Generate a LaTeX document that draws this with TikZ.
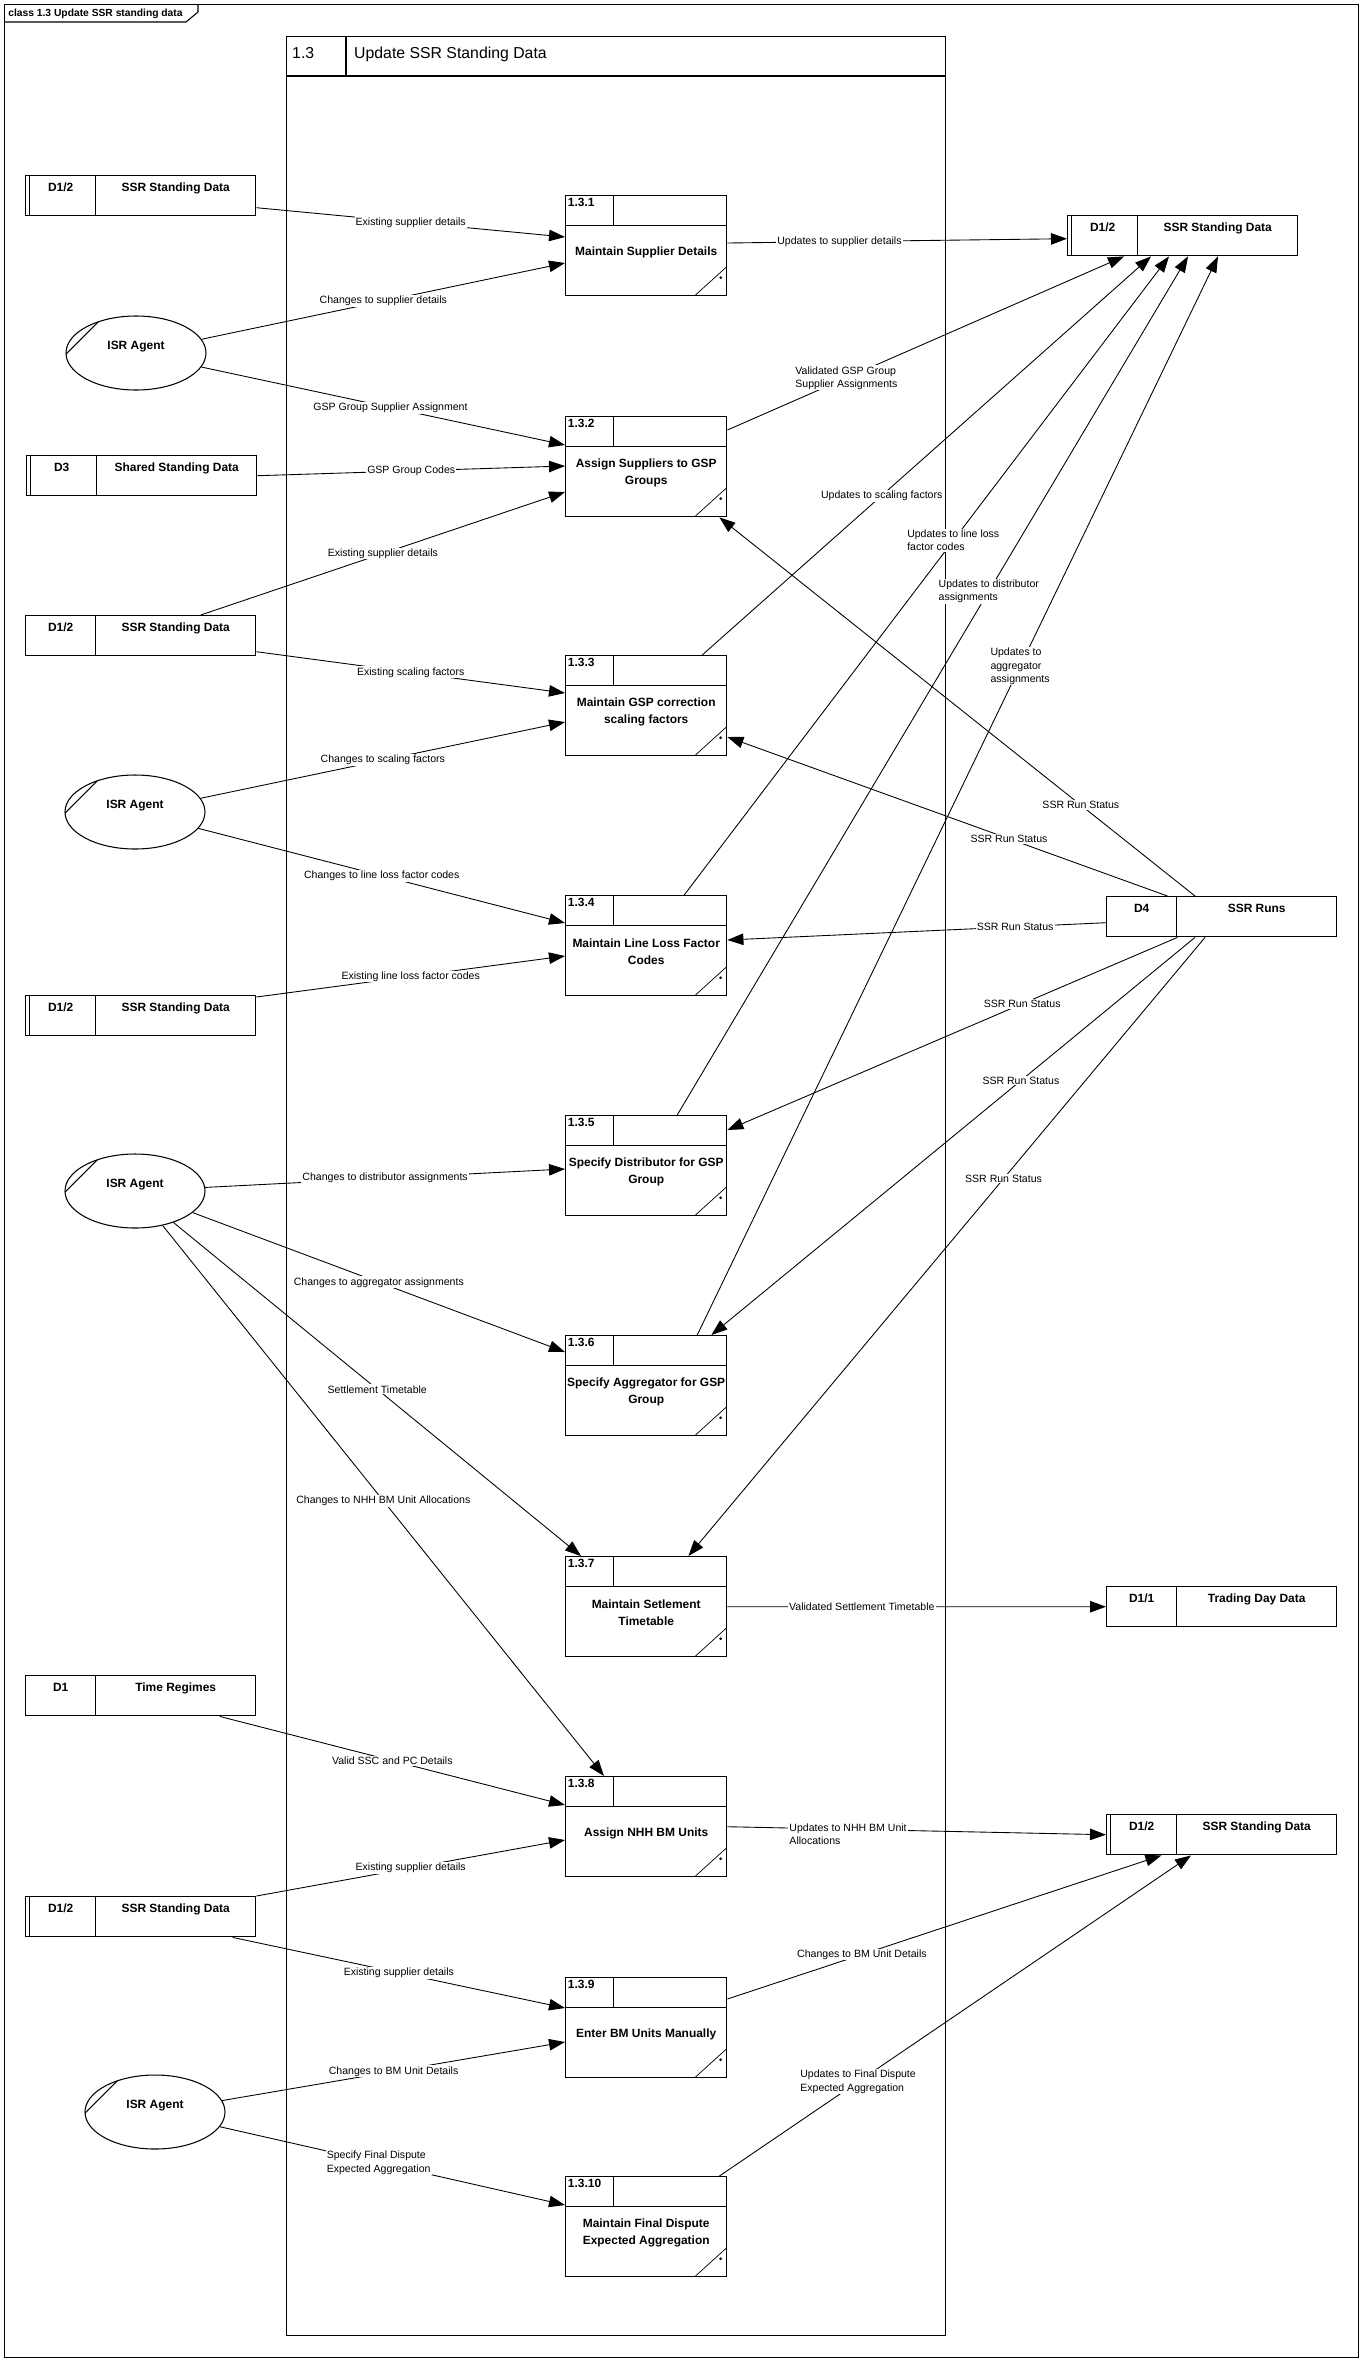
\documentclass[tikz,border=0pt]{standalone}
\usepackage{fontspec}
\setmainfont{Liberation Sans}
\usetikzlibrary{arrows.meta,positioning,calc,shapes.geometric}
\tikzset{
  lbl/.style  ={fill=white, inner sep=0.6pt, align=left, font=\fontsize{6}{7.5}\selectfont},
  arr/.style  ={-{Triangle[length=3.2mm, width=2.3mm]}, line width=0.5pt},
  ttl/.style  ={align=center, inner sep=0pt, font=\fontsize{6.8}{9.6}\selectfont\bfseries},
  pid/.style  ={anchor=north west, inner sep=1.5pt, font=\fontsize{6.8}{8}\selectfont\bfseries},
  proc/.style ={draw, line width=0.8pt, anchor=north west, minimum width=32.2mm, minimum height=20mm, inner sep=0pt,
    path picture={
      \draw[line width=0.8pt] ([yshift=-6mm]path picture bounding box.north west) -- ([yshift=-6mm]path picture bounding box.north east);
      \draw[line width=0.8pt] ([xshift=9.6mm]path picture bounding box.north west) -- ([xshift=9.6mm, yshift=-6mm]path picture bounding box.north west);
      \draw[line width=0.4pt] ([yshift=5.8mm]path picture bounding box.south east) -- ([xshift=-6.4mm]path picture bounding box.south east);
      \fill ([xshift=-1.2mm, yshift=3.6mm]path picture bounding box.south east) circle (0.3mm);
    }},
  cell/.style ={draw, line width=0.8pt, minimum height=8mm, inner sep=0pt, text height=1.6mm, text depth=3.1mm,
    font=\fontsize{6.8}{8}\selectfont\bfseries},
  sid/.style  ={cell, minimum width=14mm, anchor=north west},
  snm/.style  ={cell, minimum width=32mm},
  dbl/.style  ={path picture={
      \draw[line width=0.8pt] ([xshift=0.8mm]path picture bounding box.north west) -- ([xshift=0.8mm]path picture bounding box.south west);
    }},
  agent/.style={draw, ellipse, line width=0.6pt, minimum width=28mm, minimum height=14.8mm, inner sep=0pt,
    text height=1.6mm, text depth=3.1mm, font=\fontsize{6.8}{8}\selectfont\bfseries,
    path picture={
      \draw[line width=0.6pt] ([xshift=-16mm, yshift=-2.2mm]path picture bounding box.center) -- ([xshift=-5mm, yshift=8.8mm]path picture bounding box.center);
    }},
}
\begin{document}
\begin{tikzpicture}[x=0.2mm, y=-0.2mm]
  \useasboundingbox (0,0) rectangle (1361,2361);

  % diagram frame and its tab
  \node[draw, line width=0.6pt, anchor=north west, minimum width=270.8mm, minimum height=470.6mm, inner sep=0pt] (frame) at (4,4) {};
  \draw[line width=0.6pt] ($(frame.north west)+(0,18)$) -- ++(182,0) -- ++(12,-10) -- ++(0,-8);
  \node[anchor=west, inner sep=0pt, font=\fontsize{5.85}{7}\selectfont\bfseries] (tab) at ($(frame.north west)+(4,9.5)$) {class 1.3 Update SSR standing data};

  % parent process 1.3
  \node[draw, line width=0.8pt, anchor=north west, minimum width=131.8mm, minimum height=459.8mm, inner sep=0pt] (p13) at (286,36) {};
  \draw[line width=0.8pt] ($(p13.north west)+(0,40)$) -- ($(p13.north east)+(0,40)$);
  \draw[line width=0.8pt] ($(p13.north west)+(60,0)$) -- ++(0,40);
  \node[anchor=north west, font=\fontsize{9}{10}\selectfont] (p13id) at ($(p13.north west)+(0,5)$) {1.3};
  \node[anchor=north west, font=\fontsize{9}{10}\selectfont] (p13nm) at ($(p13.north west)+(62,5)$) {Update SSR Standing Data};

  % data stores, left
  \node[sid, dbl] (s1a) at (25,175) {D1/2};
  \node[snm, right=-0.8pt of s1a] (s1b) {SSR Standing Data};
  \node[sid, dbl] (s3a) at (26,455) {D3};
  \node[snm, right=-0.8pt of s3a] (s3b) {Shared Standing Data};
  \node[sid] (s4a) at (25,615) {D1/2};
  \node[snm, right=-0.8pt of s4a] (s4b) {SSR Standing Data};
  \node[sid, dbl] (s5a) at (25,995) {D1/2};
  \node[snm, right=-0.8pt of s5a] (s5b) {SSR Standing Data};
  \node[sid] (d1a) at (25,1675) {D1};
  \node[snm, right=-0.8pt of d1a] (d1b) {Time Regimes};
  \node[sid, dbl] (s6a) at (25,1896) {D1/2};
  \node[snm, right=-0.8pt of s6a] (s6b) {SSR Standing Data};

  % data stores, right
  \node[sid, dbl] (rs1a) at (1067,215) {D1/2};
  \node[snm, right=-0.8pt of rs1a] (rs1b) {SSR Standing Data};
  \node[sid] (d4a) at (1106,896) {D4};
  \node[snm, right=-0.8pt of d4a] (d4b) {SSR Runs};
  \node[sid] (d11a) at (1106,1586) {D1/1};
  \node[snm, right=-0.8pt of d11a] (d11b) {Trading Day Data};
  \node[sid, dbl] (rs4a) at (1106,1814) {D1/2};
  \node[snm, right=-0.8pt of rs4a] (rs4b) {SSR Standing Data};

  % external entities
  \node[agent] (e1) at (136,353)  {ISR Agent};
  \node[agent] (e2) at (135,812)  {ISR Agent};
  \node[agent] (e3) at (135,1191) {ISR Agent};
  \node[agent] (e4) at (155,2112) {ISR Agent};

  % sub-processes
  \node[proc] (p131) at (565,195) {};
  \node[pid] (p131n) at (p131.north west) {1.3.1};
  \node[ttl] (p131t) at ($(p131.north)+(0,57)$) {Maintain Supplier Details};
  \node[proc] (p132) at (565,416) {};
  \node[pid] (p132n) at (p132.north west) {1.3.2};
  \node[ttl] (p132t) at ($(p132.north)+(0,57)$) {Assign Suppliers to GSP\\Groups};
  \node[proc] (p133) at (565,655) {};
  \node[pid] (p133n) at (p133.north west) {1.3.3};
  \node[ttl] (p133t) at ($(p133.north)+(0,57)$) {Maintain GSP correction\\scaling factors};
  \node[proc] (p134) at (565,895) {};
  \node[pid] (p134n) at (p134.north west) {1.3.4};
  \node[ttl] (p134t) at ($(p134.north)+(0,57)$) {Maintain Line Loss Factor\\Codes};
  \node[proc] (p135) at (565,1115) {};
  \node[pid] (p135n) at (p135.north west) {1.3.5};
  \node[ttl] (p135t) at ($(p135.north)+(0,57)$) {Specify Distributor for GSP\\Group};
  \node[proc] (p136) at (565,1335) {};
  \node[pid] (p136n) at (p136.north west) {1.3.6};
  \node[ttl] (p136t) at ($(p136.north)+(0,57)$) {Specify Aggregator for GSP\\Group};
  \node[proc] (p137) at (565,1556) {};
  \node[pid] (p137n) at (p137.north west) {1.3.7};
  \node[ttl] (p137t) at ($(p137.north)+(0,57)$) {Maintain Setlement\\Timetable};
  \node[proc] (p138) at (565,1776) {};
  \node[pid] (p138n) at (p138.north west) {1.3.8};
  \node[ttl] (p138t) at ($(p138.north)+(0,57)$) {Assign NHH BM Units};
  \node[proc] (p139) at (565,1977) {};
  \node[pid] (p139n) at (p139.north west) {1.3.9};
  \node[ttl] (p139t) at ($(p139.north)+(0,57)$) {Enter BM Units Manually};
  \node[proc] (p1310) at (565,2176) {};
  \node[pid] (p1310n) at (p1310.north west) {1.3.10};
  \node[ttl] (p1310t) at ($(p1310.north)+(0,57)$) {Maintain Final Dispute\\Expected Aggregation};

  % flows in from the left
  \draw[arr] ($(s1b.east)+(0,12)$) -- node[lbl] (l1) {Existing supplier details} ($(p131.north west)+(0,42)$);
  \draw[arr] (e1) -- node[lbl] (l2) {Changes to supplier details} ($(p131.north west)+(0,68)$);
  \draw[arr] (e1) -- node[lbl, pos=.52] (l3) {GSP Group Supplier Assignment} ($(p132.north west)+(0,29)$);
  \draw[arr] (s3b.east) -- node[lbl] (l4) {GSP Group Codes} ($(p132.north west)+(0,50)$);
  \draw[arr] ($(s4b.north)+(25,0)$) -- node[lbl] (l5) {Existing supplier details} ($(p132.north west)+(0,76)$);
  \draw[arr] ($(s4b.east)+(0,16)$) -- node[lbl] (l6) {Existing scaling factors} ($(p133.north west)+(0,38)$);
  \draw[arr] (e2) -- node[lbl] (l7) {Changes to scaling factors} ($(p133.north west)+(0,67)$);
  \draw[arr] (e2) -- node[lbl] (l8) {Changes to line loss factor codes} ($(p134.north west)+(0,28)$);
  \draw[arr] ($(s5b.north east)+(0,2)$) -- node[lbl] (l9) {Existing line loss factor codes} ($(p134.north west)+(0,61)$);

  % updates to SSR Standing Data (top right)
  \draw[arr] ($(p131.north east)+(0,48)$) -- node[lbl, pos=.33] (l10) {Updates to supplier details} ($(rs1a.west)+(0,3)$);
  \draw[arr] ($(p132.north east)+(0,14)$) -- node[lbl, pos=.3] (l11) {Validated GSP Group\\Supplier Assignments} ($(rs1b.south west)+(-13,0)$);
  \draw[arr] ($(p133.north)+(56,0)$) -- node[lbl, pos=.4] (l12) {Updates to scaling factors} ($(rs1b.south west)+(14,0)$);
  \draw[arr] ($(p134.north)+(38,0)$) -- node[lbl, pos=.555] (l13) {Updates to line loss\\factor codes} ($(rs1b.south west)+(32,0)$);
  \draw[arr] ($(p135.north)+(31,0)$) -- node[lbl, pos=.61] (l14) {Updates to distributor\\assignments} ($(rs1b.south west)+(51,0)$);
  \draw[arr] ($(p136.north)+(51,0)$) -- node[lbl, pos=.62] (l15) {Updates to\\aggregator\\assignments} ($(rs1b.south west)+(81,0)$);

  % run status from D4
  \draw[arr] ($(d4b.north west)+(19,0)$) -- node[lbl, pos=.24] (l16) {SSR Run Status} ($(p132.south east)+(-8,0)$);
  \draw[arr] ($(d4a.north east)+(-10,0)$) -- node[lbl, pos=.36] (l17) {SSR Run Status} ($(p133.north east)+(0,82)$);
  \draw[arr] ($(d4a.west)+(0,6)$) -- node[lbl, pos=.24] (l18) {SSR Run Status} ($(p134.north east)+(0,45)$);
  \draw[arr] (d4a.south east) -- node[lbl, pos=.345] (l19) {SSR Run Status} ($(p135.north east)+(0,15)$);
  \draw[arr] ($(d4b.south west)+(19,0)$) -- node[lbl, pos=.36] (l20) {SSR Run Status} ($(p136.north east)+(-16,0)$);
  \draw[arr] ($(d4b.south west)+(29,0)$) -- node[lbl, pos=.39] (l21) {SSR Run Status} ($(p137.north east)+(-39,0)$);

  % third agent
  \draw[arr] (e3) -- node[lbl] (l22) {Changes to distributor assignments} ($(p135.north west)+(0,54)$);
  \draw[arr] (e3) -- node[lbl] (l23) {Changes to aggregator assignments} ($(p136.north west)+(0,17)$);
  \draw[arr] (e3) -- node[lbl] (l24) {Settlement Timetable} ($(p137.north west)+(16,0)$);
  \draw[arr] (e3) -- node[lbl] (l25) {Changes to NHH BM Unit Allocations} ($(p138.north west)+(39,0)$);

  % lower half
  \draw[arr] (p137.east) -- node[lbl, pos=.355] (l26) {Validated Settlement Timetable} (d11a.west);
  \draw[arr] ($(d1b.south)+(44,0)$) -- node[lbl] (l27) {Valid SSC and PC Details} ($(p138.north west)+(0,29)$);
  \draw[arr] (s6b.north east) -- node[lbl] (l28) {Existing supplier details} ($(p138.north west)+(0,64)$);
  \draw[arr] (p138.east) -- node[lbl, pos=.16, anchor=west, yshift=-1.3mm] (l29) {Updates to NHH BM Unit\\Allocations} (rs4a.west);
  \draw[arr] ($(s6b.south)+(57,0)$) -- node[lbl] (l30) {Existing supplier details} ($(p139.north west)+(0,31)$);
  \draw[arr] (e4) -- node[lbl] (l31) {Changes to BM Unit Details} ($(p139.north west)+(0,65)$);
  \draw[arr] (e4) -- node[lbl, pos=.46] (l32) {Specify Final Dispute\\Expected Aggregation} ($(p1310.north west)+(0,29)$);
  \draw[arr] ($(p139.north east)+(0,22)$) -- node[lbl, pos=.31] (l33) {Changes to BM Unit Details} ($(rs4a.south east)+(-16,0)$);
  \draw[arr] ($(p1310.north east)+(-8,0)$) -- node[lbl, pos=.294] (l34) {Updates to Final Dispute\\Expected Aggregation} ($(rs4b.south west)+(15,0)$);
\end{tikzpicture}
\end{document}
